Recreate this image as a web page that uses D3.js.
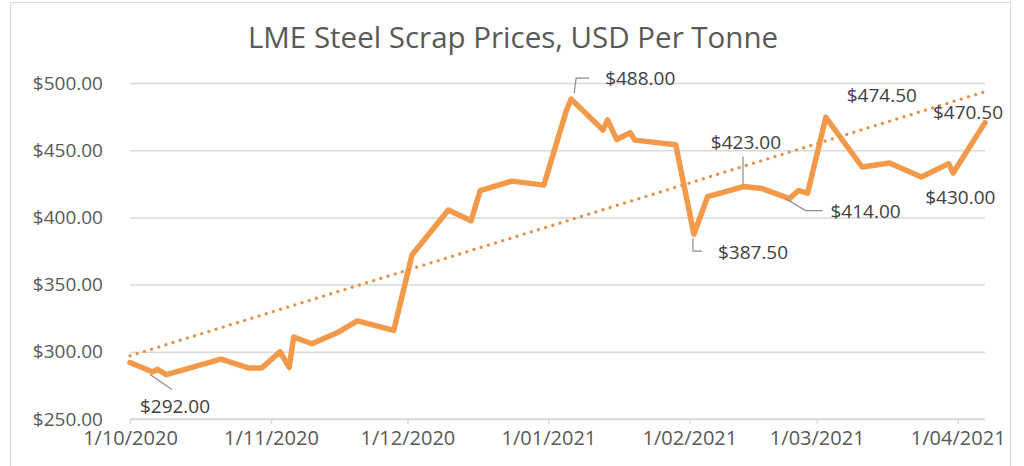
<!DOCTYPE html>
<html>
<head>
<meta charset="utf-8">
<script src="https://cdn.jsdelivr.net/npm/d3@7"></script>
<style>
  body { margin: 0; background: #fff; }
  svg text { font-family: "Open Sans", sans-serif; }
</style>
</head>
<body>
<svg id="chart" width="1024" height="466"></svg>
<script>
// data
var dates = ["2020-10-01","2020-10-06","2020-10-07","2020-10-09","2020-10-21","2020-10-27","2020-10-30",
  "2020-11-03","2020-11-05","2020-11-06","2020-11-10","2020-11-16","2020-11-20","2020-11-28",
  "2020-12-02","2020-12-10","2020-12-15","2020-12-17","2020-12-24","2020-12-31",
  "2021-01-05","2021-01-06","2021-01-13","2021-01-14","2021-01-16","2021-01-19","2021-01-20","2021-01-29",
  "2021-02-02","2021-02-05","2021-02-13","2021-02-17","2021-02-23","2021-02-25","2021-02-27",
  "2021-03-03","2021-03-11","2021-03-17","2021-03-24","2021-03-30","2021-03-31","2021-04-07"];
var prices = [292,285,287,283,294.5,288,288,
  300,288.5,311,306,315,323,316,
  372,405.5,397.5,420,427,424,
  480,488,465,472.5,458,463,457.5,454,
  387.5,415.5,423,421.5,414,420,418,
  474.5,437.5,440.5,430,440,433,470.5];
var trendDates = ["2020-10-01","2021-04-07"];
var trendValues = [297,493.5];
var yTicks = [250,300,350,400,450,500];
var xTicks = ["2020-10-01","2020-11-01","2020-12-01","2021-01-01","2021-02-01","2021-03-01","2021-04-01"];
var xTickLabels = ["1/10/2020","1/11/2020","1/12/2020","1/01/2021","1/02/2021","1/03/2021","1/04/2021"];
var title = "LME Steel Scrap Prices, USD Per Tonne";

// which points get a data label, and where the label sits
var labelled = [
  {date:"2020-10-01", dx:45, dy:44, anchor:"middle", leader:[[20,12],[42,27]]},
  {date:"2021-01-06", dx:34, dy:-21, anchor:"start", leader:[[3,-6],[5,-21],[18,-21]]},
  {date:"2021-02-02", dx:24, dy:18, anchor:"start", leader:[[-1,4],[-1,17],[8,17]]},
  {date:"2021-02-13", dx:2, dy:-44, anchor:"middle", leader:[[-1,-2],[-1,-30]]},
  {date:"2021-02-23", dx:41, dy:13, anchor:"start", leader:[[-4,0],[16,12],[33,12]]},
  {date:"2021-03-03", dx:56, dy:-22, anchor:"middle", leader:null},
  {date:"2021-03-24", dx:39, dy:20, anchor:"middle", leader:null},
  {date:"2021-04-07", dx:-17, dy:-10, anchor:"middle", leader:null}
];

var parse = d3.timeParse("%Y-%m-%d");
var money = d3.format("$,.2f");
var series = dates.map(function(d, i){ return {date: parse(d), value: prices[i]}; });

var svg = d3.select("#chart");
var x = d3.scaleTime().domain([parse("2020-10-01"), parse("2021-04-07")]).range([130, 985]);
var y = d3.scaleLinear().domain([250, 500]).range([419, 83]);

svg.append("rect").attr("x", 10.5).attr("y", 2.5).attr("width", 1000).attr("height", 475)
  .attr("fill", "#fff").attr("stroke", "#d9d9d9");

svg.append("text").attr("x", 513).attr("y", 48).attr("text-anchor", "middle")
  .attr("font-size", 29.5).attr("fill", "#595959").text(title);

// gridlines + y labels
var yAxis = d3.axisLeft(y).tickValues(yTicks).tickSize(-(985 - 130)).tickPadding(27)
  .tickFormat(money);
var gy = svg.append("g").attr("transform", "translate(130,0)").call(yAxis);
gy.select(".domain").remove();
gy.selectAll(".tick line").attr("stroke", "#d9d9d9").attr("stroke-width", 1.5);
gy.selectAll(".tick text").attr("font-size", 19).attr("fill", "#595959")
  .attr("font-family", "Open Sans, sans-serif");

// x axis
var xAxis = d3.axisBottom(x).tickValues(xTicks.map(parse)).tickSize(5).tickPadding(7)
  .tickFormat(function(d, i){ return xTickLabels[i]; });
var gx = svg.append("g").attr("transform", "translate(0,419)").call(xAxis);
gx.select(".domain").attr("stroke", "#d9d9d9").attr("stroke-width", 1.5)
  .attr("d", "M130,0H985");
gx.selectAll(".tick line").attr("stroke", "#d9d9d9").attr("stroke-width", 1.5);
gx.selectAll(".tick text").attr("font-size", 20).attr("fill", "#595959")
  .attr("font-family", "Open Sans, sans-serif");

// price line
var line = d3.line().x(function(d){ return x(d.date); }).y(function(d){ return y(d.value); });
svg.append("path").datum(series).attr("d", line)
  .attr("fill", "none").attr("stroke", "#F2994A").attr("stroke-width", 5.5)
  .attr("stroke-linejoin", "round").attr("stroke-linecap", "round");

// linear trend, dotted
var trend = trendDates.map(function(d, i){ return {date: parse(d), value: trendValues[i]}; });
svg.append("path").datum(trend).attr("d", line)
  .attr("fill", "none").attr("stroke", "#E8914A").attr("stroke-width", 3.2)
  .attr("stroke-dasharray", "0.1 7.4").attr("stroke-linecap", "round");

// data labels
var lab = svg.append("g");
labelled.forEach(function(l){
  var p = series.find(function(s){ return +s.date === +parse(l.date); });
  var px = x(p.date), py = y(p.value);
  if (l.leader) {
    var pts = l.leader.map(function(o){ return [px + o[0], py + o[1]]; });
    lab.append("path").attr("d", d3.line()(pts)).attr("fill", "none")
      .attr("stroke", "#8c8c8c").attr("stroke-width", 1.2);
  }
  lab.append("text").attr("x", px + l.dx).attr("y", py + l.dy)
    .attr("dy", "0.35em").attr("text-anchor", l.anchor)
    .attr("font-size", 19).attr("fill", "#404040").text(money(p.value));
});
</script>
</body>
</html>
